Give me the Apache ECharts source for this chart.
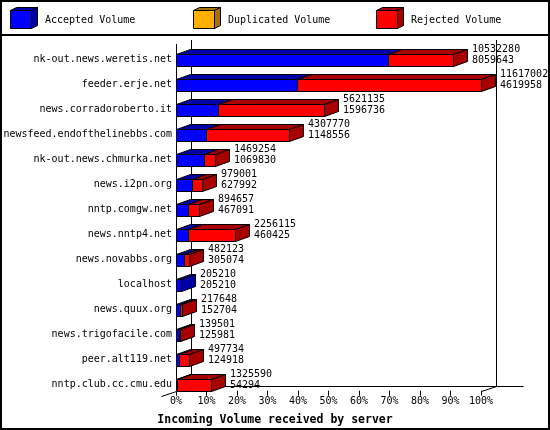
<!DOCTYPE html>
<html>
<head>
<meta charset="utf-8">
<script src="https://cdn.jsdelivr.net/npm/echarts@6/dist/echarts.min.js"></script>
<style>html,body{margin:0;padding:0;background:#fff;}#c{width:550px;height:430px;}</style>
</head>
<body>
<div id="c"></div>
<script>
var servers = ['nk-out.news.weretis.net','feeder.erje.net','news.corradoroberto.it','newsfeed.endofthelinebbs.com','nk-out.news.chmurka.net','news.i2pn.org','nntp.comgw.net','news.nntp4.net','news.novabbs.org','localhost','news.quux.org','news.trigofacile.com','peer.alt119.net','nntp.club.cc.cmu.edu'];
var totalVolume = [10532280,11617002,5621135,4307770,1469254,979001,894657,2256115,482123,205210,217648,139501,497734,1325590];
var acceptedVolume = [8059643,4619958,1596736,1148556,1069830,627992,467091,460425,305074,205210,152704,125981,124918,54294];
var duplicatedVolume = [0,0,0,0,0,0,0,0,0,0,0,0,0,0];
var xTicks = [0,10,20,30,40,50,60,70,80,90,100];
var seriesNames = ['Accepted Volume','Duplicated Volume','Rejected Volume'];
var frontColors = ['#0000ff','#ffaf00','#ff0000'];
var darkColors = ['#0000a8','#a87300','#a80000'];

var FONT = 'DejaVu Sans Mono';
var maxTotal = Math.max.apply(null, totalVolume);
function pct(v){ return v / maxTotal * 100; }

// segment ranges [start, end, index]
var segs = [[],[],[]];
servers.forEach(function(s, i){
  var a = acceptedVolume[i], d = duplicatedVolume[i], r = totalVolume[i] - a - d;
  var st = 0;
  [a, d, r].forEach(function(v, k){
    if (v > 0) segs[k].push([pct(st), pct(st + v), i]);
    st += v;
  });
});
var labelData = servers.map(function(s, i){ return [pct(totalVolume[i]), i, totalVolume[i], acceptedVolume[i]]; });

var BDX = 14, BDY = 5, BH = 12;
function px(v){ return Math.round(v) + 0.5; }
function barRender(k){
  return function(params, api){
    var s = api.value(0), e = api.value(1), i = api.value(2);
    var p0 = api.coord([s, i]), p1 = api.coord([e, i]);
    var x0 = px(p0[0]), x1 = px(p1[0]);
    var yt = px(p0[1] - BH/2), yb = yt + BH;
    return {type:'group', children:[
      {type:'rect', shape:{x:x0, y:yt, width:Math.max(x1-x0,0), height:BH}, style:{fill:frontColors[k], stroke:'#000', lineWidth:1}},
      {type:'polygon', shape:{points:[[x0,yt],[x1,yt],[x1+BDX,yt-BDY],[x0+BDX,yt-BDY]]}, style:{fill:darkColors[k], stroke:'#000', lineWidth:1}},
      {type:'polygon', shape:{points:[[x1,yt],[x1,yb],[x1+BDX,yb-BDY],[x1+BDX,yt-BDY]]}, style:{fill:darkColors[k], stroke:'#000', lineWidth:1}}
    ]};
  };
}

function frameRender(params, api){
  var cs = params.coordSys;
  var fx0 = px(cs.x), fx1 = px(cs.x + cs.width);
  var fy = Math.round(cs.y + cs.height - 6.3) + 0.5;
  var bx0 = fx0 + 15, bx1 = fx1 + 15, by = fy - 5;
  var ls = {stroke:'#000', lineWidth:1};
  function L(a,b,c,d){ return {type:'line', shape:{x1:a,y1:b,x2:c,y2:d}, style:ls}; }
  return {type:'group', children:[
    L(fx0, cs.y - 3, fx0, fy),
    L(bx0, cs.y - 7, bx0, by),
    L(bx1, cs.y - 7, bx1, by),
    L(bx0, by, bx1 + 27, by),
    L(fx1, fy, bx1, by),
    L(fx0 - 15, fy + 5, bx0, by)
  ]};
}

function labelRender(params, api){
  var p = api.coord([api.value(0), api.value(1)]);
  var x = Math.round(p[0]) + 19, yc = p[1];
  var ts = {fill:'#000', font:'10px "' + FONT + '"', textVerticalAlign:'middle', textAlign:'left'};
  return {type:'group', children:[
    {type:'text', style:Object.assign({text:String(api.value(2)), x:x, y:yc - 9.8}, ts)},
    {type:'text', style:Object.assign({text:String(api.value(3)), x:x, y:yc + 1}, ts)}
  ]};
}

// legend (drawn as graphic 3D boxes + text)
var legendX = [10, 193, 376];
var legendGraphics = [];
seriesNames.forEach(function(n, k){
  var x = legendX[k] + 0.5, y = 10.5, w = 21, h = 18, dx = 6, dy = 3;
  legendGraphics.push({type:'polygon', shape:{points:[[x,y],[x+w,y],[x+w+dx,y-dy],[x+dx,y-dy]]}, style:{fill:darkColors[k], stroke:'#000', lineWidth:1}});
  legendGraphics.push({type:'polygon', shape:{points:[[x+w,y],[x+w,y+h],[x+w+dx,y+h-dy],[x+w+dx,y-dy]]}, style:{fill:darkColors[k], stroke:'#000', lineWidth:1}});
  legendGraphics.push({type:'rect', shape:{x:x, y:y, width:w, height:h}, style:{fill:frontColors[k], stroke:'#000', lineWidth:1}});
  legendGraphics.push({type:'text', x:legendX[k] + 35, y:20, style:{text:n, fill:'#000', font:'10px "' + FONT + '"', textVerticalAlign:'middle'}});
});
legendGraphics.push({type:'rect', shape:{x:1, y:1, width:548, height:428}, style:{fill:'none', stroke:'#000', lineWidth:2}});
legendGraphics.push({type:'line', shape:{x1:0, y1:35, x2:550, y2:35}, style:{stroke:'#000', lineWidth:2}});

var chart = echarts.init(document.getElementById('c'), null, {renderer:'canvas'});
var series = [{type:'custom', name:'frame', renderItem:frameRender, data:[[0,0]], encode:{x:0,y:1}, z:1, silent:true}];
seriesNames.forEach(function(n, k){
  series.push({type:'custom', name:n, renderItem:barRender(k), data:segs[k], encode:{x:[0,1], y:2}, z:2});
});
series.push({type:'custom', name:'labels', renderItem:labelRender, data:labelData, encode:{x:0, y:1}, z:3, silent:true});

chart.setOption({
  animation:false,
  backgroundColor:'#fff',
  title:{text:'Incoming Volume received by server', left:'center', top:409,
    textStyle:{fontFamily:FONT, fontWeight:'bold', fontSize:11.5, color:'#000'}},
  grid:{left:176, right:69, top:47, bottom:33},
  xAxis:{type:'value', min:0, max:100, interval:10, offset:-6.3,
    axisLine:{show:false}, splitLine:{show:false},
    axisTick:{show:true, length:5, lineStyle:{color:'#000'}},
    axisLabel:{formatter:function(v){ return xTicks.indexOf(v) >= 0 ? v + '%' : ''; }, fontFamily:FONT, fontSize:10, color:'#000', margin:6}},
  yAxis:{type:'category', data:servers, inverse:true,
    axisLine:{show:false}, axisTick:{show:false}, splitLine:{show:false},
    axisLabel:{fontFamily:FONT, fontSize:10, color:'#000', margin:4}},
  graphic:legendGraphics,
  series:series
});
</script>
</body>
</html>
